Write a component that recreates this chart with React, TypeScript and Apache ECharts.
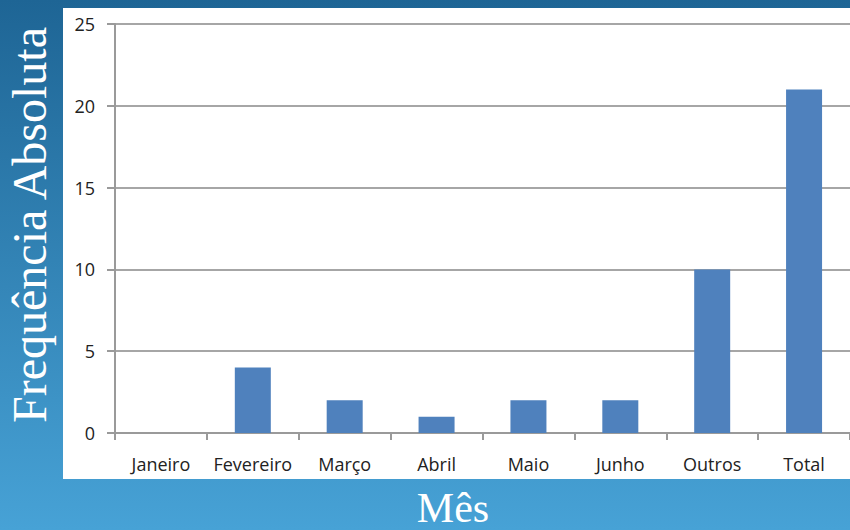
import React, { useEffect, useRef } from "react";
import * as echarts from "echarts";

const categories = ["Janeiro", "Fevereiro", "Março", "Abril", "Maio", "Junho", "Outros", "Total"];
const values = [0, 4, 2, 1, 2, 2, 10, 21];
const yTicks = [0, 5, 10, 15, 20, 25];
const yTitle = "Frequência Absoluta";
const xTitle = "Mês";

export default function App() {
  const ref = useRef<HTMLDivElement>(null);
  useEffect(() => {
    const chart = echarts.init(ref.current!, null, { renderer: "svg" });
    chart.setOption({
      animation: false,
      backgroundColor: {
        type: "linear",
        x: 0, y: 0, x2: 0, y2: 1,
        colorStops: [
          { offset: 0, color: "#1e6595" },
          { offset: 1, color: "#47a2d6" },
        ],
      },
      graphic: [
        {
          type: "rect",
          z: -10,
          shape: { x: 63, y: 8, width: 800, height: 471 },
          style: { fill: "#ffffff" },
          silent: true,
        },
        {
          type: "text",
          x: 29,
          y: 225,
          rotation: Math.PI / 2,
          style: {
            text: yTitle,
            fill: "#ffffff",
            font: "48px 'Liberation Serif', serif",
            align: "center",
            verticalAlign: "middle",
          },
        },
        {
          type: "text",
          x: 453,
          y: 508,
          style: {
            text: xTitle,
            fill: "#ffffff",
            font: "42px 'Liberation Serif', serif",
            align: "center",
            verticalAlign: "middle",
          },
        },
      ],
      grid: { left: 115, right: 0, top: 24, bottom: 97, containLabel: false },
      xAxis: {
        type: "category",
        data: categories,
        boundaryGap: true,
        axisLine: { lineStyle: { color: "#9a9a9a", width: 2 } },
        axisTick: { show: true, length: 7, lineStyle: { color: "#9a9a9a", width: 2 } },
        axisLabel: {
          color: "#222222",
          fontFamily: "'Open Sans', sans-serif",
          fontSize: 18,
          margin: 22,
          interval: 0,
        },
      },
      yAxis: {
        type: "value",
        min: 0,
        max: 25,
        interval: 5,
        axisLine: { show: true, lineStyle: { color: "#9a9a9a", width: 2 } },
        axisTick: { show: true, length: 8, lineStyle: { color: "#9a9a9a", width: 2 } },
        splitLine: { show: true, lineStyle: { color: "#a6a6a6", width: 2 } },
        axisLabel: {
          color: "#222222",
          fontFamily: "'Open Sans', sans-serif",
          fontSize: 18,
          margin: 20,
          formatter: (v: number) => (yTicks.includes(v) ? String(v) : ""),
        },
      },
      series: [
        {
          type: "bar",
          data: values,
          barWidth: 36,
          itemStyle: { color: "#4f81bd" },
        },
      ],
    });
    return () => chart.dispose();
  }, []);
  return <div ref={ref} style={{ width: 850, height: 530, position: "absolute", left: 0, top: 0 }} />;
}
